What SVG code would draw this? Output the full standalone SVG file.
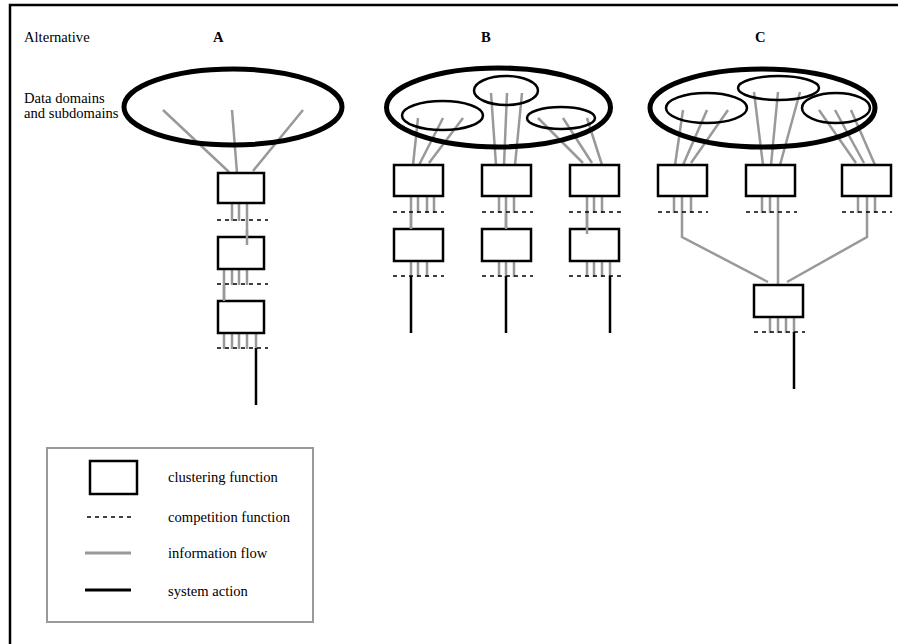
<svg xmlns="http://www.w3.org/2000/svg" width="898" height="644" viewBox="0 0 898 644">
<style>
text{font-family:"Liberation Serif","Times New Roman",serif;font-size:14.6px;fill:#000}
.h{font-weight:bold}
.big{fill:none;stroke:#000;stroke-width:5}
.sub{fill:none;stroke:#000;stroke-width:2.5}
.box{fill:#fff;stroke:#000;stroke-width:2.5}
.f{stroke:#999;stroke-width:2.5;fill:none}
.d{stroke:#000;stroke-width:1.5;stroke-dasharray:4 4;fill:none}
.a{stroke:#000;stroke-width:2.5;fill:none}
</style>
<rect width="898" height="644" fill="#fff"/>
<path d="M10 660 V5 H910" fill="none" stroke="#000" stroke-width="2.5"/>
<g id="labels">
<text x="24" y="42">Alternative</text>
<text x="24" y="103">Data domains</text>
<text x="24" y="118">and subdomains</text>
<text class="h" x="213" y="42">A</text>
<text class="h" x="481" y="42">B</text>
<text class="h" x="755" y="42">C</text>
</g>
<g id="connectors">
<!-- A -->
<path class="f" d="M163 110 L229 172 M232 110 L237 173 M303 110 L253 171"/>
<path class="f" d="M232 203 V221 M239 203 V221 M247 203 V245"/>
<path class="f" d="M224 269 V301 M232 269 V285 M239 269 V285 M247 269 V285"/>
<path class="f" d="M224 333 V349 M232 333 V349 M239 333 V349 M247 333 V349 M256 333 V349"/>
<path class="a" d="M256 348 V405"/>
<!-- B -->
<path class="f" d="M418 118 L413 165 M443 118 L419 165 M463 118 L429 163"/>
<path class="f" d="M491 93 L496 165 M507 93 L504 165 M522 93 L515 165"/>
<path class="f" d="M538 118 L583 163 M563 118 L592 163 M587 118 L602 165"/>
<path class="f" d="M411 196 V229 M418 196 V213 M427 196 V213 M434 196 V213"/>
<path class="f" d="M499 196 V213 M506 196 V229 M514 196 V213"/>
<path class="f" d="M587 196 V234 M594 196 V213 M602 196 V213"/>
<path class="f" d="M411 261 V277 M418 261 V277 M427 261 V277"/>
<path class="f" d="M499 261 V277 M506 261 V277 M514 261 V277"/>
<path class="f" d="M587 261 V277 M594 261 V277 M602 261 V277 M610 261 V277"/>
<path class="a" d="M411 276 V333 M506 276 V333 M610 276 V333"/>
<!-- C -->
<path class="f" d="M683 110 L675 165 M707 110 L683 165 M728 110 L691 163"/>
<path class="f" d="M754 92 L763 165 M778 92 L771 165 M800 92 L780 165"/>
<path class="f" d="M819 110 L856 163 M835 110 L864 163 M851 110 L875 165"/>
<path class="f" d="M674 196 V213 M682 196 V237 L768 282 M691 196 V213"/>
<path class="f" d="M762 196 V213 M770 196 V213 M778 196 V285"/>
<path class="f" d="M858 196 V213 M867 196 V237 L787 282 M875 196 V213"/>
<path class="f" d="M770 317 V333 M778 317 V333 M786 317 V333 M794 317 V333"/>
<path class="a" d="M794 332 V389"/>
</g>
<g id="domainA"><ellipse class="big" cx="233" cy="107" rx="109" ry="38"/></g>
<g id="domainB">
<ellipse class="big" cx="498.5" cy="107.5" rx="112" ry="39.5"/>
<ellipse class="sub" cx="442.5" cy="115.5" rx="40.5" ry="14.5"/>
<ellipse class="sub" cx="506" cy="90.5" rx="32" ry="14.5"/>
<ellipse class="sub" cx="561" cy="118" rx="34" ry="11"/>
</g>
<g id="domainC">
<ellipse class="big" cx="762.5" cy="108" rx="112.5" ry="39"/>
<ellipse class="sub" cx="706.5" cy="108" rx="40.5" ry="15"/>
<ellipse class="sub" cx="778.5" cy="88" rx="40.5" ry="12"/>
<ellipse class="sub" cx="836" cy="108" rx="34" ry="15"/>
</g>
<g id="boxesA">
<rect class="box" x="218" y="173" width="46" height="30"/>
<rect class="box" x="218" y="237" width="46" height="32"/>
<rect class="box" x="218" y="301" width="46" height="32"/>
</g>
<g id="boxesB">
<rect class="box" x="394" y="165" width="49" height="31"/>
<rect class="box" x="482" y="165" width="49" height="31"/>
<rect class="box" x="570" y="165" width="49" height="31"/>
<rect class="box" x="394" y="229" width="49" height="32"/>
<rect class="box" x="482" y="229" width="49" height="32"/>
<rect class="box" x="570" y="229" width="49" height="32"/>
</g>
<g id="boxesC">
<rect class="box" x="658" y="165" width="49" height="31"/>
<rect class="box" x="746" y="165" width="49" height="31"/>
<rect class="box" x="842" y="165" width="49" height="31"/>
<rect class="box" x="754" y="285" width="49" height="32"/>
</g>
<g id="overlay">
<path class="f" d="M247 230 V245 M224 285 V301 M411 213 V229 M506 213 V229 M587 213 V234"/>
</g>
<g id="competition">
<path class="d" d="M217 220 H268 M217 284 H268 M217 348 H268"/>
<path class="d" d="M393 212 H444 M482 212 H533 M569 212 H621"/>
<path class="d" d="M393 276 H444 M482 276 H533 M569 276 H621"/>
<path class="d" d="M658 212 H708 M746 212 H797 M842 212 H892 M754 332 H805"/>
</g>
<g id="legend">
<rect x="47" y="448" width="266" height="174" fill="none" stroke="#999" stroke-width="2"/>
<rect class="box" x="90" y="461" width="47" height="33"/>
<text x="168" y="482">clustering function</text>
<path class="d" d="M87 517 H131"/>
<text x="168" y="522">competition function</text>
<path d="M85 553 H131" stroke="#999" stroke-width="3"/>
<text x="168" y="558">information flow</text>
<path d="M85 590 H131" stroke="#000" stroke-width="3"/>
<text x="168" y="596">system action</text>
</g>
</svg>
